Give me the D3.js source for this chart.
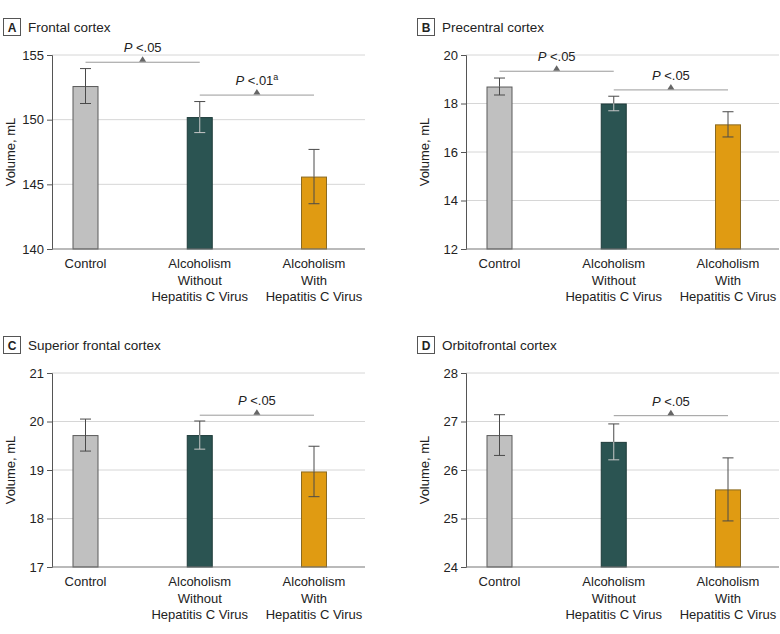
<!DOCTYPE html>
<html>
<head>
<meta charset="utf-8">
<script src="https://cdn.jsdelivr.net/npm/d3@7"></script>
<style>
  html, body { margin: 0; padding: 0; background: #fff; }
  svg { display: block; font-family: "Liberation Sans", Arial, sans-serif; }
</style>
</head>
<body>
<svg id="chart" width="780" height="634"></svg>
<script>
// ---- Data ----
const categories = ["Control", "Alcoholism Without Hepatitis C Virus", "Alcoholism With Hepatitis C Virus"];
const categoryLabelLines = [["Control"], ["Alcoholism", "Without", "Hepatitis C Virus"], ["Alcoholism", "With", "Hepatitis C Virus"]];
const barColors = ["#c0c0c0", "#2b5452", "#e09b12"];
const barStrokes = ["#5a5a5a", "#1e3b3a", "#8a6a22"];
const lowerWhiskerColors = ["#4a4a4a", "#c8c8c8", "#4a4a4a"];

const panelLetters = ["A", "B", "C", "D"];
const panelTitles = ["Frontal cortex", "Precentral cortex", "Superior frontal cortex", "Orbitofrontal cortex"];

const frontalMeans = [152.6, 150.2, 145.6];
const frontalErrors = [1.35, 1.2, 2.1];
const precentralMeans = [18.7, 18.0, 17.14];
const precentralErrors = [0.35, 0.3, 0.52];
const superiorFrontalMeans = [19.72, 19.72, 18.97];
const superiorFrontalErrors = [0.33, 0.29, 0.52];
const orbitofrontalMeans = [26.72, 26.58, 25.6];
const orbitofrontalErrors = [0.42, 0.37, 0.65];

const yDomains = [[140, 155], [12, 20], [17, 21], [24, 28]];
const yTicks = [[140, 145, 150, 155], [12, 14, 16, 18, 20], [17, 18, 19, 20, 21], [24, 25, 26, 27, 28]];

const frontalComparisons = [
  { from: 0, to: 1, label: "<.05", sup: "", level: 154.44 },
  { from: 1, to: 2, label: "<.01", sup: "a", level: 151.9 }
];
const precentralComparisons = [
  { from: 0, to: 1, label: "<.05", sup: "", level: 19.33 },
  { from: 1, to: 2, label: "<.05", sup: "", level: 18.56 }
];
const superiorFrontalComparisons = [
  { from: 1, to: 2, label: "<.05", sup: "", level: 20.13 }
];
const orbitofrontalComparisons = [
  { from: 1, to: 2, label: "<.05", sup: "", level: 27.12 }
];

const panelMeans = [frontalMeans, precentralMeans, superiorFrontalMeans, orbitofrontalMeans];
const panelErrors = [frontalErrors, precentralErrors, superiorFrontalErrors, orbitofrontalErrors];
const panelComparisons = [frontalComparisons, precentralComparisons, superiorFrontalComparisons, orbitofrontalComparisons];

// ---- Layout ----
const svg = d3.select("#chart");
const panelOrigins = [[52, 55], [466, 55], [52, 373], [466, 373]];
const plotW = 313, plotH = 194;
const barW = 26;

panelLetters.forEach((letter, p) => {
  const [ox, oy] = panelOrigins[p];
  const g = svg.append("g").attr("transform", `translate(${ox},${oy})`);

  const x = d3.scalePoint().domain(categories).range([33.5, 262]);
  const y = d3.scaleLinear().domain(yDomains[p]).range([plotH, 0]);

  // Panel letter box + title
  const hdr = g.append("g").attr("transform", "translate(-49,-37)");
  hdr.append("rect").attr("x", 0.5).attr("y", 0.5).attr("width", 17).attr("height", 17)
    .attr("fill", "#fff").attr("stroke", "#555").attr("stroke-width", 1);
  hdr.append("text").attr("x", 9).attr("y", 13.5).attr("text-anchor", "middle")
    .attr("font-size", 12).attr("font-weight", "bold").attr("fill", "#222").text(letter);
  hdr.append("text").attr("x", 25).attr("y", 13.5)
    .attr("font-size", 13.5).attr("fill", "#222").text(panelTitles[p]);

  // gridlines
  g.append("g").selectAll("line").data(yTicks[p].slice(1)).join("line")
    .attr("x1", 0).attr("x2", plotW)
    .attr("y1", d => y(d)).attr("y2", d => y(d))
    .attr("stroke", "#d6d6d6").attr("stroke-width", 1);

  // y axis
  const yAxis = d3.axisLeft(y).tickValues(yTicks[p]).tickSize(5).tickPadding(3).tickFormat(d3.format("d"));
  const ya = g.append("g").call(yAxis);
  ya.select(".domain").attr("stroke", "#555");
  ya.selectAll(".tick line").attr("stroke", "#555");
  ya.selectAll(".tick text").attr("font-size", 13).attr("fill", "#222")
    .attr("font-family", "Liberation Sans, Arial, sans-serif");

  // y label
  g.append("text").attr("transform", `translate(-37,${plotH / 2}) rotate(-90)`)
    .attr("text-anchor", "middle").attr("font-size", 13).attr("fill", "#222").text("Volume, mL");

  // bars
  const means = panelMeans[p], errs = panelErrors[p];
  const data = categories.map((c, i) => ({ c, i, m: means[i], e: errs[i] }));
  g.append("g").selectAll("rect").data(data).join("rect")
    .attr("x", d => x(d.c) - barW / 2 + 0.5)
    .attr("width", barW - 1)
    .attr("y", d => y(d.m) + 0.5)
    .attr("height", d => y(yDomains[p][0]) - y(d.m) - 0.5)
    .attr("fill", d => barColors[d.i])
    .attr("stroke", d => barStrokes[d.i]).attr("stroke-width", 1);

  // baseline
  g.append("line").attr("x1", 0).attr("x2", plotW).attr("y1", plotH).attr("y2", plotH)
    .attr("stroke", "#777").attr("stroke-width", 1.2);

  // error bars
  const eb = g.append("g").selectAll("g").data(data).join("g");
  eb.append("line").attr("x1", d => x(d.c)).attr("x2", d => x(d.c))
    .attr("y1", d => y(d.m + d.e)).attr("y2", d => y(d.m))
    .attr("stroke", "#4a4a4a").attr("stroke-width", 1);
  eb.append("line").attr("x1", d => x(d.c) - 5.5).attr("x2", d => x(d.c) + 5.5)
    .attr("y1", d => y(d.m + d.e)).attr("y2", d => y(d.m + d.e))
    .attr("stroke", "#4a4a4a").attr("stroke-width", 1);
  eb.append("line").attr("x1", d => x(d.c)).attr("x2", d => x(d.c))
    .attr("y1", d => y(d.m)).attr("y2", d => y(d.m - d.e))
    .attr("stroke", d => lowerWhiskerColors[d.i]).attr("stroke-width", 1);
  eb.append("line").attr("x1", d => x(d.c) - 5.5).attr("x2", d => x(d.c) + 5.5)
    .attr("y1", d => y(d.m - d.e)).attr("y2", d => y(d.m - d.e))
    .attr("stroke", d => lowerWhiskerColors[d.i]).attr("stroke-width", 1);

  // category labels
  const cl = g.append("g").selectAll("text").data(categories).join("text")
    .attr("text-anchor", "middle").attr("font-size", 13).attr("fill", "#222")
    .attr("transform", d => `translate(${x(d)},${plotH + 19})`);
  cl.each(function (d, i) {
    d3.select(this).selectAll("tspan").data(categoryLabelLines[i]).join("tspan")
      .attr("x", 0).attr("dy", (t, j) => j === 0 ? 0 : 16.7).text(t => t);
  });

  // significance brackets
  const sg = g.append("g").selectAll("g").data(panelComparisons[p]).join("g");
  sg.append("line")
    .attr("x1", d => x(categories[d.from])).attr("x2", d => x(categories[d.to]))
    .attr("y1", d => y(d.level)).attr("y2", d => y(d.level))
    .attr("stroke", "#9a9a9a").attr("stroke-width", 1);
  sg.append("path")
    .attr("d", d => {
      const cx = (x(categories[d.from]) + x(categories[d.to])) / 2;
      const cy = y(d.level);
      return `M${cx - 3.5},${cy - 0.5} L${cx + 3.5},${cy - 0.5} L${cx},${cy - 6} Z`;
    })
    .attr("fill", "#666");
  const st = sg.append("text")
    .attr("x", d => (x(categories[d.from]) + x(categories[d.to])) / 2)
    .attr("y", d => y(d.level) - 10)
    .attr("text-anchor", "middle").attr("font-size", 13).attr("fill", "#222");
  st.append("tspan").attr("font-style", "italic").text("P");
  st.append("tspan").text(d => " " + d.label);
  st.append("tspan").attr("font-size", 9).attr("dy", -5).text(d => d.sup);
});
</script>
</body>
</html>
